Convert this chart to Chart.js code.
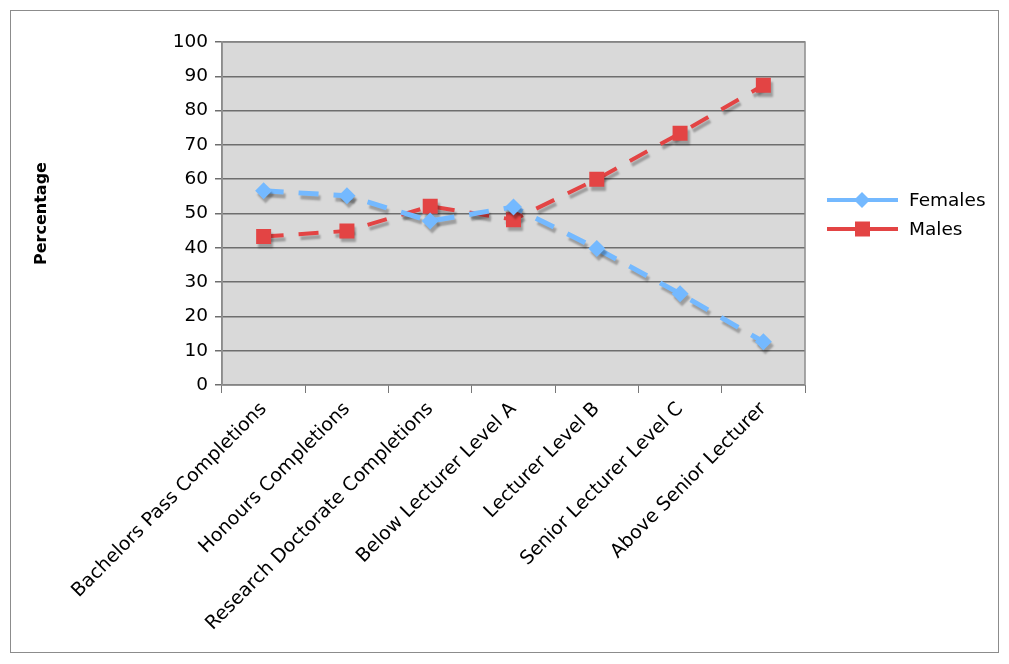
<!DOCTYPE html>
<html>
<head>
<meta charset="utf-8">
<script src="https://cdn.jsdelivr.net/npm/chart.js@4.4.0/dist/chart.umd.min.js"></script>
<style>
  html, body { margin: 0; padding: 0; background: #fff; }
  #wrap { width: 1009px; height: 664px; }
</style>
</head>
<body>
<div id="wrap"><canvas id="myChart" width="1009" height="664"></canvas></div>
<script>
var categories = ['Bachelors Pass Completions', 'Honours Completions', 'Research Doctorate Completions',
    'Below Lecturer Level A', 'Lecturer Level B', 'Senior Lecturer Level C', 'Above Senior Lecturer'];
var females = [56.6, 55.2, 47.8, 51.9, 39.8, 26.6, 12.6];
var males = [43.3, 44.9, 52.1, 48.2, 60.0, 73.4, 87.4];
var yTicks = [0, 10, 20, 30, 40, 50, 60, 70, 80, 90, 100];

var FONT = '"DejaVu Sans", Verdana, sans-serif';

// background of plot, frame, shadows and the legend
var decor = {
    id: 'decor',
    beforeDraw: function (chart) {
        var ctx = chart.ctx, a = chart.chartArea;
        ctx.save();
        ctx.fillStyle = '#fff';
        ctx.fillRect(0, 0, chart.width, chart.height);
        ctx.strokeStyle = '#8c8c8c';
        ctx.lineWidth = 1;
        ctx.strokeRect(10.5, 10.5, 988, 642);
        ctx.fillStyle = '#d9d9d9';
        ctx.fillRect(a.left, a.top, a.right - a.left, a.bottom - a.top);
        ctx.restore();
    },
    beforeDatasetDraw: function (chart) {
        var ctx = chart.ctx;
        ctx.save();
        ctx.shadowColor = 'rgba(0,0,0,0.28)';
        ctx.shadowOffsetX = 2;
        ctx.shadowOffsetY = 4;
        ctx.shadowBlur = 2;
    },
    afterDatasetDraw: function (chart) {
        chart.ctx.restore();
    },
    afterDraw: function (chart) {
        var ctx = chart.ctx, a = chart.chartArea;
        ctx.save();
        ctx.strokeStyle = '#8c8c8c';
        ctx.lineWidth = 1.5;
        ctx.strokeRect(a.left, a.top, a.right - a.left, a.bottom - a.top);
        var rows = [200, 229];
        chart.data.datasets.forEach(function (ds, i) {
            var y = rows[i];
            ctx.strokeStyle = ds.borderColor;
            ctx.lineWidth = 4;
            ctx.beginPath();
            ctx.moveTo(827, y);
            ctx.lineTo(898, y);
            ctx.stroke();
            ctx.fillStyle = ds.borderColor;
            ctx.beginPath();
            if (ds.pointStyle === 'rect') {
                ctx.rect(855, y - 7.5, 15, 15);
            } else {
                ctx.moveTo(862, y - 8);
                ctx.lineTo(870, y);
                ctx.lineTo(862, y + 8);
                ctx.lineTo(854, y);
                ctx.closePath();
            }
            ctx.fill();
            ctx.fillStyle = '#000';
            ctx.font = '18.5px ' + FONT;
            ctx.textBaseline = 'middle';
            ctx.fillText(ds.label, 909, y + 1);
        });
        ctx.restore();
    }
};

var ctx = document.getElementById('myChart');
var myChart = new Chart(ctx, {
    type: 'line',
    data: {
        labels: categories,
        datasets: [{
                label: 'Females',
                data: females,
                borderColor: '#74b9ff',
                backgroundColor: '#74b9ff',
                pointBackgroundColor: '#74b9ff',
                pointBorderWidth: 0,
                borderWidth: 5,
                borderDash: [20, 15],
                pointStyle: 'rectRot',
                pointRadius: 8.5,
                pointHoverRadius: 8.5,
                fill: false,
                tension: 0
            }, {
                label: 'Males',
                data: males,
                borderColor: '#e34444',
                backgroundColor: '#e34444',
                pointBackgroundColor: '#e34444',
                pointBorderWidth: 0,
                borderWidth: 4,
                borderDash: [20, 15],
                pointStyle: 'rect',
                pointRadius: 10.6,
                pointHoverRadius: 10.6,
                fill: false,
                tension: 0
            }
        ]
    },
    plugins: [decor],
    options: {
        responsive: false,
        animation: false,
        layout: { padding: { left: 10, right: 204, top: 42, bottom: 12 } },
        plugins: {
            legend: { display: false },
            tooltip: { enabled: false }
        },
        scales: {
            x: {
                offset: true,
                grid: { offset: true, drawOnChartArea: false, drawTicks: true, tickLength: 8, color: '#777' },
                border: { display: false },
                ticks: {
                    color: '#000',
                    font: { family: FONT, size: 19 },
                    maxRotation: 45,
                    minRotation: 45,
                    autoSkip: false,
                    padding: 5
                },
                afterFit: function (scale) { scale.height = 664 - 385 - 12; }
            },
            y: {
                min: 0,
                max: 100,
                afterBuildTicks: function (scale) {
                    scale.ticks = yTicks.map(function (v) { return { value: v }; });
                },
                grid: { color: '#6e6e6e', lineWidth: 1.5, tickLength: 7 },
                border: { color: '#8c8c8c', width: 1.5 },
                ticks: {
                    color: '#000',
                    font: { family: FONT, size: 18.5 },
                    padding: 7
                },
                title: {
                    display: true,
                    text: 'Percentage',
                    color: '#000',
                    font: { family: FONT, size: 16, weight: 'bold' },
                    padding: { top: 22, bottom: 0 }
                },
                afterFit: function (scale) { scale.width = 212; }
            }
        }
    }
});
</script>
</body>
</html>
